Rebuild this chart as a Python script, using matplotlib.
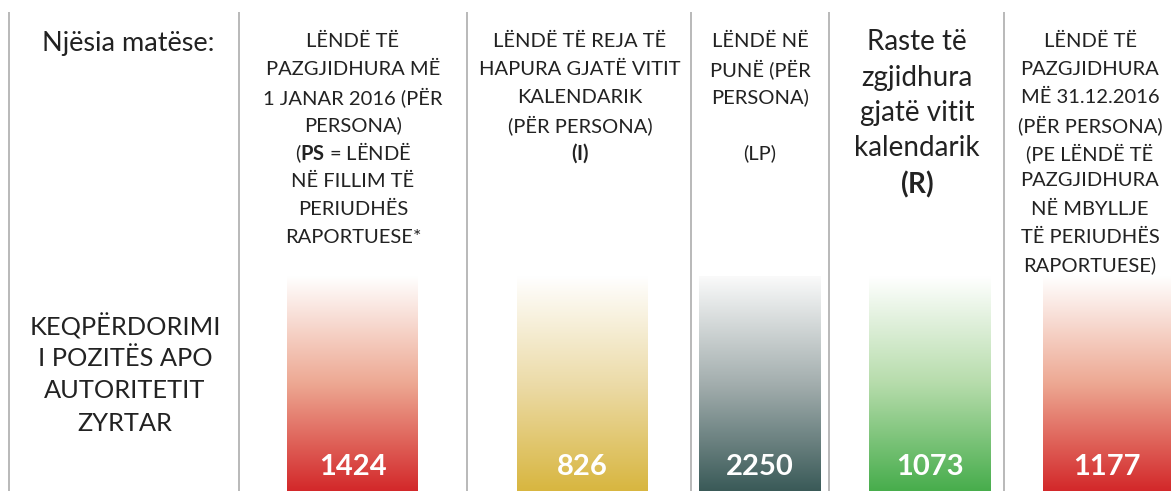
import numpy as np
import matplotlib as mpl
mpl.use('Agg')
import matplotlib.pyplot as plt
from matplotlib.colors import LinearSegmentedColormap

plt.rcParams['font.family'] = ['Lato', 'DejaVu Sans']
plt.rcParams['mathtext.fontset'] = 'custom'
plt.rcParams['mathtext.rm'] = 'Lato'
plt.rcParams['mathtext.bf'] = 'Lato:bold'

# data
row_label = ['KEQPËRDORIMI', 'I POZITËS APO', 'AUTORITETIT', 'ZYRTAR']
unit_label = 'Njësia matëse:'
headers = [
    ['LËNDË TË', 'PAZGJIDHURA MË', '1 JANAR 2016 (PËR', 'PERSONA)',
     r'($\mathbf{PS}$ = LËNDË', 'NË FILLIM TË', 'PERIUDHËS', 'RAPORTUESE*'],
    ['LËNDË TË REJA TË', 'HAPURA GJATË VITIT', 'KALENDARIK', '(PËR PERSONA)',
     r'$\mathbf{(I)}$'],
    ['LËNDË NË', 'PUNË (PËR', 'PERSONA)', '', '(LP)'],
    ['Raste të', 'zgjidhura', 'gjatë vitit', 'kalendarik', r'$\mathbf{(R)}$'],
    ['LËNDË TË', 'PAZGJIDHURA', 'MË 31.12.2016', '(PËR PERSONA)',
     '(PE LËNDË TË', 'PAZGJIDHURA', 'NË MBYLLJE', 'TË PERIUDHËS', 'RAPORTUESE)'],
]
values = [1424, 826, 2250, 1073, 1177]
bar_colors = [
    ['#ffffff', '#eda892', '#d3282a'],
    ['#ffffff', '#ecdba8', '#d8b640'],
    ['#fafafa', '#a3aeae', '#3a5a58'],
    ['#ffffff', '#b6dcab', '#47ad4c'],
    ['#ffffff', '#eda892', '#d3282a'],
]

# layout in pixels
W, H = 1175, 491
dividers = [9, 239, 467, 691, 829, 1004]
bar_x = [(287, 418), (517, 648), (699, 821), (869, 991), (1043, 1171)]
bar_top = 276
col_centers = [353, 580, 760, 917, 1090]

fig = plt.figure(figsize=(W / 100, H / 100), dpi=100)
ax = fig.add_axes([0, 0, 1, 1])
ax.set_xlim(0, W)
ax.set_ylim(H, 0)
ax.axis('off')

for x in dividers:
    ax.plot([x, x], [12, H], color='#b3b3b3', lw=1.3, solid_capstyle='butt')

ax.text(128, 43, unit_label, ha='center', va='center', fontsize=19.5, color='#222222')
for i, line in enumerate(row_label):
    ax.text(125, 326 + i * 32.5, line, ha='center', va='center', fontsize=18.3, color='#222222')

grad = np.linspace(0, 1, 256).reshape(-1, 1)
for i, val in enumerate(values):
    x0, x1 = bar_x[i]
    cmap = LinearSegmentedColormap.from_list('b%d' % i, list(zip([0, 0.5, 1], bar_colors[i])))
    ax.imshow(grad, cmap=cmap, extent=(x0, x1, H, bar_top), aspect='auto',
              interpolation='bicubic', zorder=1)
    ax.text((x0 + x1) / 2, 467, str(val), ha='center', va='center', fontsize=21,
            fontweight='bold', color='white', zorder=3)

for i, lines in enumerate(headers):
    if i == 3:
        y0, dy, fs = 42, 35.5, 20
    else:
        y0, dy, fs = 41, 28, 14.5
    for j, line in enumerate(lines):
        ax.text(col_centers[i], y0 + j * dy, line, ha='center', va='center',
                fontsize=fs, color='#222222')

fig.savefig('out.png', dpi=100)
